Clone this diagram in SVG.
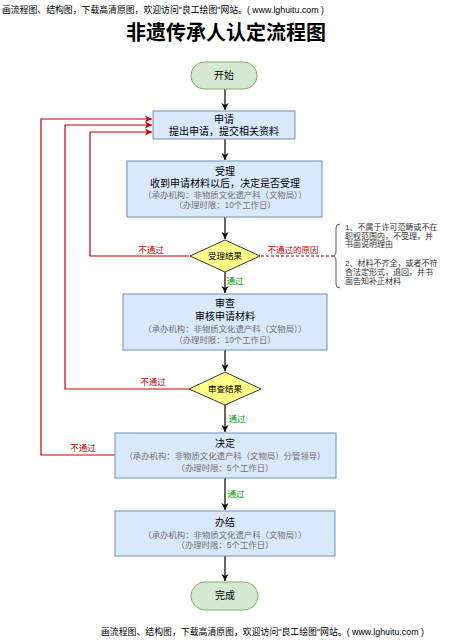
<svg xmlns="http://www.w3.org/2000/svg" width="452" height="642" viewBox="0 0 452 642">
<defs>
<style>
text{font-family:"Liberation Sans","Noto Sans CJK SC",sans-serif;}
.box{fill:#dae8fc;stroke:#6c8ebf;stroke-width:1;}
.term{fill:#d5e8d4;stroke:#82b366;stroke-width:1;}
.dia{fill:#ffff88;stroke:#36393d;stroke-width:1;}
.t{font-size:10px;fill:#000;text-anchor:middle;}
.g{font-size:8.4px;fill:#707070;text-anchor:middle;}
.d{font-size:8.5px;fill:#000;text-anchor:middle;}
.red{font-size:8.5px;fill:#cc0000;text-anchor:middle;}
.grn{font-size:8.5px;fill:#009900;text-anchor:middle;}
.note{font-size:8px;fill:#333;}
.hf{font-size:9px;fill:#000;}
.ln{fill:none;stroke:#000;stroke-width:1.2;}
.rl{fill:none;stroke:#cc0000;stroke-width:1.2;}
</style>
<marker id="ab" markerWidth="8" markerHeight="8" refX="7" refY="4" orient="auto" markerUnits="userSpaceOnUse"><path d="M0,0.5 L7,4 L0,7.5 L2,4 Z" fill="#000"/></marker>
<marker id="ar" markerWidth="8" markerHeight="8" refX="7" refY="4" orient="auto" markerUnits="userSpaceOnUse"><path d="M0,0.5 L7,4 L0,7.5 L2,4 Z" fill="#cc0000"/></marker>
</defs>
<rect width="452" height="642" fill="#fff"/>
<text class="hf" x="2" y="13" textLength="322" lengthAdjust="spacingAndGlyphs">画流程图、结构图，下载高清原图，欢迎访问"良工绘图"网站。( www.lghuitu.com )</text>
<text x="226" y="40" style="font-size:20px;font-weight:bold;fill:#000;text-anchor:middle">非遗传承人认定流程图</text>

<g id="connectors">
<path class="ln" d="M225,89 V110" marker-end="url(#ab)"/>
<path class="ln" d="M225,139 V160" marker-end="url(#ab)"/>
<path class="ln" d="M225,217 V239" marker-end="url(#ab)"/>
<path class="ln" d="M225,272 V293" marker-end="url(#ab)"/>
<path class="ln" d="M225,350 V371" marker-end="url(#ab)"/>
<path class="ln" d="M225,405 V432" marker-end="url(#ab)"/>
<path class="ln" d="M225,478 V510" marker-end="url(#ab)"/>
<path class="ln" d="M225,556 V581" marker-end="url(#ab)"/>
<path class="rl" d="M189,256 H90 V132 H152" marker-end="url(#ar)"/>
<path class="rl" d="M189,389 H65 V125 H152" marker-end="url(#ar)"/>
<path class="rl" d="M115,455 H41 V119 H152" marker-end="url(#ar)"/>
<path d="M261,256 H332" fill="none" stroke="#990000" stroke-width="1.2" stroke-dasharray="3,2"/>
<path d="M340,224 Q336,224 336,228 V251 Q336,256 332,256 Q336,256 336,261 V284 Q336,288 340,288" fill="none" stroke="#333" stroke-width="0.8"/>
<text class="red" x="151" y="253">不通过</text>
<text class="red" x="293" y="253">不通过的原因</text>
<text class="grn" x="235" y="284">通过</text>
<text class="red" x="153" y="385">不通过</text>
<text class="grn" x="237" y="422">通过</text>
<text class="red" x="83" y="451">不通过</text>
<text class="grn" x="236" y="497">通过</text>
</g>

<g id="start">
<rect class="term" x="191" y="62" width="66" height="27" rx="13.5"/>
<text class="t" x="224" y="79">开始</text>
</g>

<g id="apply">
<rect class="box" x="153" y="111" width="142" height="28"/>
<text class="t" x="224" y="123">申请</text>
<text class="t" x="224" y="135">提出申请，提交相关资料</text>
</g>

<g id="accept">
<rect class="box" x="127" y="161" width="195" height="56"/>
<text class="t" x="225" y="175">受理</text>
<text class="t" x="225" y="187">收到申请材料以后，决定是否受理</text>
<text class="g" x="225" y="198">（承办机构：非物质文化遗产科（文物局））</text>
<text class="g" x="225" y="208">（办理时限：10个工作日）</text>
</g>

<g id="accept-result">
<polygon class="dia" points="225,240 260,256 225,272 190,256"/>
<text class="d" x="225" y="259">受理结果</text>
</g>

<g id="reasons">
<text class="note" x="345" y="230">1、不属于许可范畴或不在</text>
<text class="note" x="345" y="238.5">职权范围内，不受理，并</text>
<text class="note" x="345" y="247">书面说明理由</text>
<text class="note" x="345" y="266">2、材料不齐全，或者不符</text>
<text class="note" x="345" y="274.5">合法定形式，退回，并书</text>
<text class="note" x="345" y="284">面告知补正材料</text>
</g>

<g id="review">
<rect class="box" x="123" y="294" width="204" height="56"/>
<text class="t" x="225" y="307">审查</text>
<text class="t" x="225" y="320">审核申请材料</text>
<text class="g" x="225" y="332">（承办机构：非物质文化遗产科（文物局））</text>
<text class="g" x="225" y="343">（办理时限：10个工作日）</text>
</g>

<g id="review-result">
<polygon class="dia" points="225,372 261,389 225,405 189,389"/>
<text class="d" x="225" y="392">审查结果</text>
</g>

<g id="decision">
<rect class="box" x="115" y="433" width="221" height="45"/>
<text class="t" x="225" y="447">决定</text>
<text class="g" x="225" y="459">（承办机构：非物质文化遗产科（文物局）分管领导）</text>
<text class="g" x="225" y="471">（办理时限：5个工作日）</text>
</g>

<g id="finish-process">
<rect class="box" x="115" y="511" width="220" height="45"/>
<text class="t" x="225" y="526">办结</text>
<text class="g" x="225" y="538">（承办机构：非物质文化遗产科（文物局））</text>
<text class="g" x="225" y="548">（办理时限：5个工作日）</text>
</g>

<g id="end">
<rect class="term" x="191" y="582" width="67" height="28" rx="14"/>
<text class="t" x="225" y="599">完成</text>
</g>

<text class="hf" x="101" y="635" textLength="323" lengthAdjust="spacingAndGlyphs">画流程图、结构图，下载高清原图，欢迎访问"良工绘图"网站。( www.lghuitu.com )</text>
</svg>
